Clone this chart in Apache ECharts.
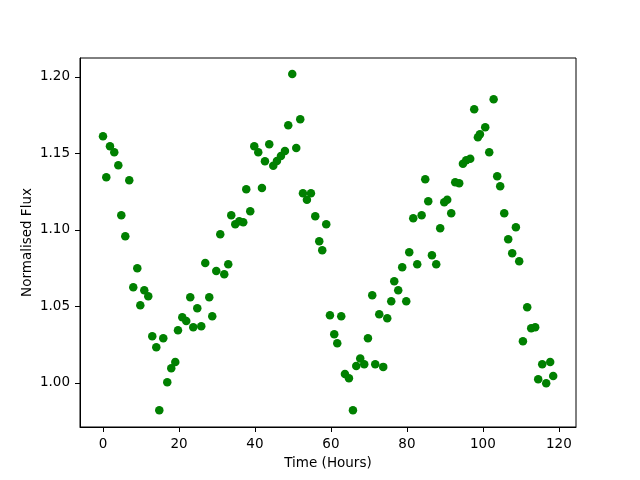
<!DOCTYPE html>
<html>
<head>
<meta charset="utf-8">
<script src="https://cdn.jsdelivr.net/npm/echarts@6/dist/echarts.min.js"></script>
<style>
  html, body { margin: 0; padding: 0; background: #fff; }
  #chart1 { width: 640px; height: 480px; }
</style>
</head>
<body>
<div id="chart1"></div>
<script>
// values
const timeHours = [
  0.0, 0.87, 1.84, 2.97, 4.03, 4.82, 5.87, 6.92, 7.97, 9.03,
  9.82, 10.87, 11.92, 12.97, 14.03, 14.82, 15.87, 16.92, 17.97, 19.03,
  19.74, 20.87, 21.92, 22.97, 23.76, 24.82, 25.87, 26.92, 27.97, 28.76,
  29.82, 30.87, 31.92, 32.97, 33.76, 34.82, 35.87, 36.92, 37.71, 38.76,
  39.82, 40.87, 41.84, 42.63, 43.76, 44.82, 45.79, 46.84, 47.89, 48.76,
  49.82, 50.87, 51.92, 52.63, 53.68, 54.74, 55.87, 56.92, 57.71, 58.76,
  59.74, 60.87, 61.66, 62.71, 63.68, 64.74, 65.79, 66.66, 67.71, 68.76,
  69.74, 70.87, 71.66, 72.71, 73.76, 74.82, 75.87, 76.66, 77.71, 78.76,
  79.82, 80.61, 81.66, 82.71, 83.87, 84.82, 85.61, 86.58, 87.71, 88.76,
  89.82, 90.61, 91.66, 92.71, 93.76, 94.74, 95.61, 96.66, 97.71, 98.68,
  99.21, 100.61, 101.66, 102.82, 103.76, 104.55, 105.61, 106.66, 107.71, 108.68,
  109.55, 110.53, 111.66, 112.71, 113.76, 114.55, 115.61, 116.66, 117.71, 118.5
];
const normFlux = [
  1.1612, 1.1345, 1.1547, 1.1508, 1.1423, 1.1096, 1.0959, 1.1325, 1.0625, 1.0750,
  1.0508, 1.0606, 1.0567, 1.0305, 1.0233, 0.9822, 1.0292, 1.0005, 1.0096, 1.0137,
  1.0344, 1.0429, 1.0405, 1.0560, 1.0364, 1.0488, 1.0371, 1.0784, 1.0560, 1.0436,
  1.0732, 1.0972, 1.0710, 1.0776, 1.1096, 1.1037, 1.1057, 1.1050, 1.1266, 1.1122,
  1.1547, 1.1508, 1.1275, 1.1449, 1.1560, 1.1420, 1.1451, 1.1484, 1.1516, 1.1684,
  1.2020, 1.1536, 1.1724, 1.1240, 1.1198, 1.1240, 1.1090, 1.0926, 1.0867, 1.1037,
  1.0442, 1.0318, 1.0259, 1.0436, 1.0059, 1.0031, 0.9822, 1.0111, 1.0159, 1.0122,
  1.0292, 1.0573, 1.0122, 1.0449, 1.0105, 1.0423, 1.0534, 1.0665, 1.0606, 1.0756,
  1.0534, 1.0854, 1.1076, 1.0776, 1.1096, 1.1331, 1.1188, 1.0835, 1.0776, 1.1011,
  1.1181, 1.1198, 1.1109, 1.1312, 1.1305, 1.1433, 1.1456, 1.1466, 1.1789, 1.1606,
  1.1625, 1.1671, 1.1508, 1.1854, 1.1351, 1.1286, 1.1109, 1.0939, 1.0848, 1.1018,
  1.0795, 1.0273, 1.0495, 1.0358, 1.0364, 1.0024, 1.0122, 0.9998, 1.0137, 1.0046
];
const xTicks = [0, 20, 40, 60, 80, 100, 120];
const yTicks = [1.00, 1.05, 1.10, 1.15, 1.20];

let chart1;
const fontFam = 'DejaVu Sans';

const getOptionChart1 = () => {
  return {
    animation: false,
    backgroundColor: '#fff',
    textStyle: { fontFamily: fontFam },
    grid: {
      left: 80, right: 64, top: 58, bottom: 53,
      show: true, borderColor: '#000', borderWidth: 1
    },
    xAxis: {
      type: 'value',
      min: -6.05, max: 124.5,
      name: 'Time (Hours)',
      nameLocation: 'middle',
      nameGap: 29,
      nameMoveOverlap: false,
      nameTextStyle: { color: '#000', fontSize: 13.5, fontFamily: fontFam },
      splitLine: { show: false },
      axisLine: { show: true, onZero: false, lineStyle: { color: '#000', width: 1 } },
      axisTick: { show: true, length: 5, inside: false, customValues: xTicks, lineStyle: { color: '#000' } },
      axisLabel: { customValues: xTicks, color: '#000', fontSize: 13.5, margin: 10, fontFamily: fontFam }
    },
    yAxis: {
      type: 'value',
      min: 0.9712, max: 1.2124,
      name: 'Normalised Flux',
      nameLocation: 'middle',
      nameGap: 46,
      nameMoveOverlap: false,
      nameTextStyle: { color: '#000', fontSize: 13.5, fontFamily: fontFam },
      splitLine: { show: false },
      axisLine: { show: true, onZero: false, lineStyle: { color: '#000', width: 1 } },
      axisTick: { show: true, length: 5, inside: false, customValues: yTicks, lineStyle: { color: '#000' } },
      axisLabel: {
        customValues: yTicks, color: '#000', fontSize: 13.5, margin: 10, fontFamily: fontFam,
        formatter: v => v.toFixed(2)
      }
    },
    series: [
      {
        type: 'scatter',
        symbol: 'circle',
        symbolSize: 8.5,
        itemStyle: { color: '#008000', opacity: 1 },
        data: timeHours.map((t, i) => [t, normFlux[i]])
      }
    ]
  };
};

const initCharts = () => {
  chart1 = echarts.init(document.getElementById('chart1'));
  chart1.setOption(getOptionChart1());
};
document.addEventListener('DOMContentLoaded', function () {
  initCharts();
});
</script>
</body>
</html>
